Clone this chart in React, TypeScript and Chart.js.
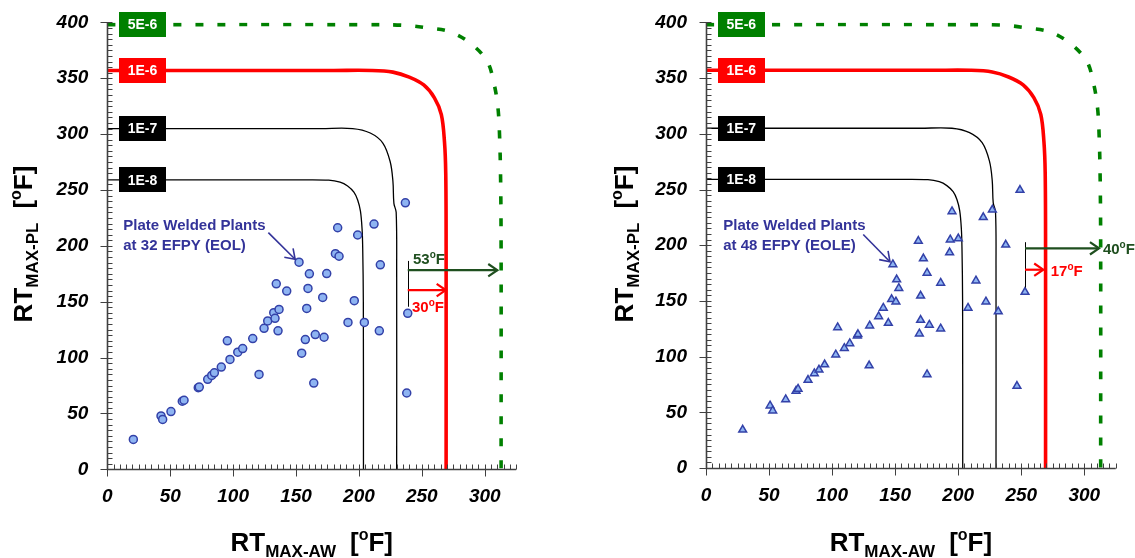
import React, { useEffect, useRef } from "react";
import { Chart, registerables } from "chart.js";

Chart.register(...registerables);

const FONT = '"Liberation Sans", Arial, Helvetica, sans-serif';

// ---------- tick values ----------
const xTickValues = [0, 50, 100, 150, 200, 250, 300];
const yTickValues = [0, 50, 100, 150, 200, 250, 300, 350, 400];
const X_MAX = 325;
const Y_MAX = 400;
const TICK_FONT_SIZE = 19;

// ---------- contour curves (x = RT_MAX-AW, y = RT_MAX-PL) ----------
const curve5E6: [number, number][] = [
  [0, 398], [200, 398], [235, 397.5], [255, 395], [272.5, 391.5], [289, 381], [302, 365],
  [307.5, 344.5], [310.5, 323.5], [311.8, 298], [312.6, 260], [313, 200], [313, 0],
];
const curve1E6: [number, number][] = [
  [0, 357], [180, 357], [210, 357], [227, 355.5], [240, 351], [251.5, 344], [260, 332.5],
  [265.5, 317.5], [268, 293], [269, 265], [269.3, 200], [269.3, 0],
];
const curve1E7: [number, number][] = [
  [0, 305], [170, 305], [195, 305], [209, 301], [219, 292], [224.8, 275.5], [227, 258],
  [227.8, 238], [229.6, 230], [230, 180], [230, 0],
];
const curve1E8: [number, number][] = [
  [0, 259], [150, 259], [176, 258.8], [185, 257], [191, 253.5], [196, 248], [199, 241],
  [201.2, 231], [202.5, 215], [203, 198], [203.5, 150], [203.6, 0],
];
const curveLabels = ["5E-6", "1E-6", "1E-7", "1E-8"];
const curveLabelY = [398, 357, 305, 259];

// ---------- plate welded plants, 32 EFPY (EOL) ----------
const eolX = [
  20.7, 42.7, 44.0, 50.6, 59.6, 61.0, 72.3, 73.1, 79.8, 83.0, 85.1, 90.6, 95.4, 97.5, 103.7,
  107.6, 115.6, 120.6, 124.6, 127.5, 132.3, 133.3, 136.5, 134.3, 135.7, 142.6, 152.4, 160.6,
  174.4, 159.5, 171.2, 196.3, 158.5, 191.3, 204.3, 216.2, 157.4, 165.3, 172.3, 154.5, 164.1,
  183.1, 199.0, 212.0, 181.3, 184.2, 217.0, 236.9, 238.8, 238.0,
];
const eolY = [
  26.7, 47.8, 44.6, 51.7, 60.9, 61.8, 73.1, 73.6, 80.5, 84.0, 86.4, 91.5, 115.0, 98.3, 104.8,
  108.1, 117.0, 84.9, 126.2, 132.8, 140.2, 135.1, 143.1, 166.0, 123.9, 159.5, 185.4, 175.0,
  175.2, 161.9, 153.8, 150.9, 144.0, 131.5, 131.5, 123.9, 116.1, 120.6, 118.2, 103.9, 77.2,
  216.2, 209.7, 219.5, 193.0, 190.7, 183.0, 238.5, 139.6, 68.3,
];

// ---------- plate welded plants, 48 EFPY (EOLE) ----------
const eoleX = [
  29.1, 50.8, 52.9, 63.2, 71.4, 73.0, 80.9, 85.9, 89.6, 94.1, 102.9, 104.4, 109.7, 114.0,
  120.0, 120.5, 129.4, 129.8, 136.9, 140.6, 144.6, 147.2, 150.6, 148.2, 151.2, 152.9, 168.4,
  172.4, 175.3, 186.1, 170.2, 170.2, 177.1, 169.2, 186.1, 175.3, 195.1, 193.7, 200.1, 193.2,
  219.9, 227.1, 237.7, 214.1, 207.8, 222.0, 231.8, 249.0, 246.6, 253.0,
];
const eoleY = [
  34.3, 55.9, 51.4, 61.5, 69.2, 71.0, 78.9, 84.9, 88.1, 92.8, 101.7, 126.2, 107.6, 111.8,
  118.8, 120.0, 92.0, 127.7, 136.0, 143.7, 130.1, 151.4, 149.3, 182.7, 169.2, 161.4, 203.7,
  188.0, 175.1, 166.1, 154.6, 132.8, 128.4, 120.6, 125.1, 84.0, 230.3, 204.9, 206.0, 193.4,
  225.0, 231.8, 200.4, 168.2, 143.7, 149.3, 140.4, 249.5, 73.6, 157.9,
];

// ---------- margin annotations ----------
const leftMargins = ["53", "30"];
const rightMargins = ["40", "17"];

type Seg = { text?: string; size?: number; dy?: number; gap?: number };

function segWidth(ctx: CanvasRenderingContext2D, s: Seg) {
  if (!s.text) return s.gap || 0;
  ctx.font = `bold ${s.size}px ${FONT}`;
  return ctx.measureText(s.text).width;
}

function drawRich(ctx: CanvasRenderingContext2D, segs: Seg[], x: number, y: number, align: "left" | "center") {
  let total = 0;
  for (const s of segs) total += segWidth(ctx, s);
  let cx = align === "center" ? x - total / 2 : x;
  ctx.textAlign = "left";
  ctx.textBaseline = "alphabetic";
  for (const s of segs) {
    const w = segWidth(ctx, s);
    if (s.text) {
      ctx.font = `bold ${s.size}px ${FONT}`;
      ctx.fillText(s.text, cx, y + (s.dy || 0));
    }
    cx += w;
  }
}

function drawArrow(ctx: CanvasRenderingContext2D, x1: number, y1: number, x2: number, y2: number, color: string, width: number, head: number) {
  ctx.save();
  ctx.strokeStyle = color;
  ctx.lineWidth = width;
  ctx.lineCap = "butt";
  ctx.beginPath();
  ctx.moveTo(x1, y1);
  ctx.lineTo(x2, y2);
  ctx.stroke();
  const a = Math.atan2(y2 - y1, x2 - x1);
  const sp = 0.6;
  ctx.beginPath();
  ctx.moveTo(x2 - head * Math.cos(a - sp), y2 - head * Math.sin(a - sp));
  ctx.lineTo(x2, y2);
  ctx.lineTo(x2 - head * Math.cos(a + sp), y2 - head * Math.sin(a + sp));
  ctx.stroke();
  ctx.restore();
}

type Panel = {
  xs: number[];
  ys: number[];
  pointStyle: "circle" | "triangle";
  radius: number;
  note: string[];
  noteAt: [number, number];
  blueArrow: [number, number, number, number];
  bracketX: number;
  bracketY: [number, number];
  greenY: number;
  greenTo: number;
  redY: number;
  redTo: number;
  margins: string[];
  greenLabelAt: [number, number];
  redLabelAt: [number, number];
  yAxisWidth: number;
  padRight: number;
  padTop: number;
  xAxisHeight: number;
  yTitleX: number;
};

function makeChart(canvas: HTMLCanvasElement, p: Panel) {
  const tickFont = { family: FONT, size: TICK_FONT_SIZE, weight: "bold" as const, style: "italic" as const };
  const lineDs = (pts: [number, number][], color: string, width: number, dash: number[]) => ({
    type: "line" as const,
    data: pts.map(([x, y]) => ({ x, y })),
    borderColor: color,
    backgroundColor: color,
    borderWidth: width,
    borderDash: dash,
    borderCapStyle: "butt" as const,
    pointRadius: 0,
    tension: 0.35,
    fill: false,
    showLine: true,
  });

  const decor = {
    id: "decor",
    afterDatasetsDraw(chart: any) {
      const ctx: CanvasRenderingContext2D = chart.ctx;
      const xs = chart.scales.x;
      const ys = chart.scales.y;
      const X = (v: number) => xs.getPixelForValue(v);
      const Y = (v: number) => ys.getPixelForValue(v);
      ctx.save();
      // curve label boxes
      const boxColors = ["#008000", "#FF0000", "#000000", "#000000"];
      curveLabels.forEach((lab, i) => {
        const cx = X(28);
        const cy = Y(curveLabelY[i]);
        ctx.fillStyle = boxColors[i];
        ctx.fillRect(Math.round(cx - 23.5), Math.round(cy - 12.5), 47, 25);
        ctx.fillStyle = "#FFFFFF";
        ctx.font = `bold 14px ${FONT}`;
        ctx.textAlign = "center";
        ctx.textBaseline = "middle";
        ctx.fillText(lab, cx, cy + 1);
      });
      // note text
      ctx.fillStyle = "#333399";
      const nx = X(p.noteAt[0]);
      const ny = Y(p.noteAt[1]);
      p.note.forEach((line, i) => {
        drawRich(ctx, [{ text: line, size: 15 }], nx, ny + i * 20, "left");
      });
      const [ax1, ay1, ax2, ay2] = p.blueArrow;
      drawArrow(ctx, X(ax1), Y(ay1), X(ax2), Y(ay2), "#333399", 1.6, 11);
      // margin brackets
      ctx.strokeStyle = "#000";
      ctx.lineWidth = 1;
      ctx.beginPath();
      ctx.moveTo(Math.round(X(p.bracketX)) + 0.5, Y(p.bracketY[0]));
      ctx.lineTo(Math.round(X(p.bracketX)) + 0.5, Y(p.bracketY[1]));
      ctx.stroke();
      drawArrow(ctx, X(p.bracketX), Y(p.greenY), X(p.greenTo), Y(p.greenY), "#1F4F1F", 2.2, 11);
      drawArrow(ctx, X(p.bracketX), Y(p.redY), X(p.redTo), Y(p.redY), "#FF0000", 2.2, 11);
      ctx.fillStyle = "#1F4F1F";
      drawRich(ctx, [{ text: p.margins[0], size: 15 }, { text: "o", size: 10, dy: -6 }, { text: "F", size: 15 }],
        X(p.greenLabelAt[0]), Y(p.greenLabelAt[1]), "left");
      ctx.fillStyle = "#FF0000";
      drawRich(ctx, [{ text: p.margins[1], size: 15 }, { text: "o", size: 10, dy: -6 }, { text: "F", size: 15 }],
        X(p.redLabelAt[0]), Y(p.redLabelAt[1]), "left");
      ctx.restore();
    },
    afterDraw(chart: any) {
      const ctx: CanvasRenderingContext2D = chart.ctx;
      const xs = chart.scales.x;
      const ys = chart.scales.y;
      const x0 = Math.round(xs.getPixelForValue(0)) + 0.5;
      const y0 = Math.round(ys.getPixelForValue(0)) + 0.5;
      ctx.save();
      ctx.strokeStyle = "#404040";
      ctx.lineWidth = 1;
      ctx.beginPath();
      for (let v = 0; v <= X_MAX; v += 5) {
        const px = Math.round(xs.getPixelForValue(v)) + 0.5;
        if (v % 50 === 0) {
          ctx.moveTo(px, y0 - 5);
          ctx.lineTo(px, y0 + 7);
        } else {
          ctx.moveTo(px, y0 - 5);
          ctx.lineTo(px, y0);
        }
      }
      for (let v = 0; v <= Y_MAX; v += 5) {
        const py = Math.round(ys.getPixelForValue(v)) + 0.5;
        if (v % 50 === 0) {
          ctx.moveTo(x0 - 7, py);
          ctx.lineTo(x0 + 5, py);
        } else {
          ctx.moveTo(x0, py);
          ctx.lineTo(x0 + 5, py);
        }
      }
      ctx.stroke();
      ctx.lineWidth = 1.6;
      ctx.beginPath();
      ctx.moveTo(x0, ys.getPixelForValue(Y_MAX));
      ctx.lineTo(x0, y0);
      ctx.lineTo(xs.getPixelForValue(X_MAX), y0);
      ctx.stroke();

      // axis titles
      ctx.fillStyle = "#000";
      const xc = (chart.chartArea.left + chart.chartArea.right) / 2;
      drawRich(ctx, [
        { text: "RT", size: 26 }, { text: "MAX-AW", size: 17, dy: 6 }, { gap: 14 },
        { text: "[", size: 26 }, { text: "o", size: 16, dy: -11 }, { text: "F]", size: 26 },
      ], xc, 551, "center");
      ctx.translate(p.yTitleX, 244);
      ctx.rotate(-Math.PI / 2);
      drawRich(ctx, [
        { text: "RT", size: 26 }, { text: "MAX-PL", size: 17, dy: 6 }, { gap: 14 },
        { text: "[", size: 26 }, { text: "o", size: 16, dy: -11 }, { text: "F]", size: 26 },
      ], 0, 0, "center");
      ctx.restore();
    },
  };

  return new Chart(canvas, {
    type: "scatter",
    data: {
      datasets: [
        {
          type: "scatter" as const,
          data: p.xs.map((x, i) => ({ x, y: p.ys[i] })),
          pointStyle: p.pointStyle,
          pointRadius: p.radius,
          pointBackgroundColor: "#8EB4F2",
          pointBorderColor: "#3341A8",
          pointBorderWidth: 1.5,
          showLine: false,
        } as any,
        lineDs(curve5E6, "#008000", 3.6, [8, 14]),
        lineDs(curve1E6, "#FF0000", 3.6, []),
        lineDs(curve1E7, "#000000", 1.3, []),
        lineDs(curve1E8, "#000000", 1.3, []),
      ],
    },
    options: {
      animation: false,
      responsive: false,
      events: [],
      layout: { padding: { left: 0, right: p.padRight, top: p.padTop, bottom: 0 } },
      plugins: { legend: { display: false }, tooltip: { enabled: false }, title: { display: false } },
      scales: {
        x: {
          type: "linear",
          min: 0,
          max: X_MAX,
          grid: { display: false },
          border: { display: false },
          ticks: {
            stepSize: 50,
            includeBounds: false,
            autoSkip: false,
            maxRotation: 0,
            padding: 8,
            color: "#000",
            font: tickFont,
            callback: (v: any) => (xTickValues.includes(Number(v)) ? String(v) : ""),
          },
          afterFit: (s: any) => { s.height = p.xAxisHeight; },
        },
        y: {
          type: "linear",
          min: 0,
          max: Y_MAX,
          grid: { display: false },
          border: { display: false },
          ticks: {
            stepSize: 50,
            autoSkip: false,
            padding: 11,
            color: "#000",
            font: tickFont,
            callback: (v: any) => (yTickValues.includes(Number(v)) ? String(v) : ""),
          },
          afterFit: (s: any) => { s.width = p.yAxisWidth; },
        },
      },
    } as any,
    plugins: [decor],
  });
}

const leftPanel: Panel = {
  xs: eolX,
  ys: eolY,
  pointStyle: "circle",
  radius: 4,
  note: ["Plate Welded Plants", "at 32 EFPY (EOL)"],
  noteAt: [12.7, 213.9],
  blueArrow: [128, 211.8, 149.3, 188],
  bracketX: 238.8,
  bracketY: [145.5, 186.5],
  greenY: 178.2,
  greenTo: 310,
  redY: 160.4,
  redTo: 269,
  margins: leftMargins,
  greenLabelAt: [243, 184.1],
  redLabelAt: [242.2, 140.5],
  yAxisWidth: 107.3,
  padRight: 50.8,
  padTop: 8.1,
  xAxisHeight: 88.7,
  yTitleX: 31.6,
};

const rightPanel: Panel = {
  xs: eoleX,
  ys: eoleY,
  pointStyle: "triangle",
  radius: 4.5,
  note: ["Plate Welded Plants", "at 48 EFPY (EOLE)"],
  noteAt: [13.7, 213.5],
  blueArrow: [124.7, 209.6, 145.9, 185.1],
  bracketX: 253,
  bracketY: [162, 202.7],
  greenY: 197.2,
  greenTo: 311.7,
  redY: 178,
  redTo: 267.5,
  margins: rightMargins,
  greenLabelAt: [314.8, 191.8],
  redLabelAt: [273.4, 172.7],
  yAxisWidth: 139,
  padRight: 19.2,
  padTop: 5.6,
  xAxisHeight: 90,
  yTitleX: 65.6,
};

export default function App() {
  const leftRef = useRef<HTMLCanvasElement>(null);
  const rightRef = useRef<HTMLCanvasElement>(null);
  useEffect(() => {
    const a = makeChart(leftRef.current!, leftPanel);
    const b = makeChart(rightRef.current!, rightPanel);
    return () => {
      a.destroy();
      b.destroy();
    };
  }, []);
  return (
    <div style={{ position: "fixed", left: 0, top: 0, width: 1135, height: 558, background: "#fff", overflow: "hidden" }}>
      <canvas ref={leftRef} width={567} height={558} style={{ position: "absolute", left: 0, top: 0 }} />
      <canvas ref={rightRef} width={568} height={558} style={{ position: "absolute", left: 567, top: 0 }} />
    </div>
  );
}
